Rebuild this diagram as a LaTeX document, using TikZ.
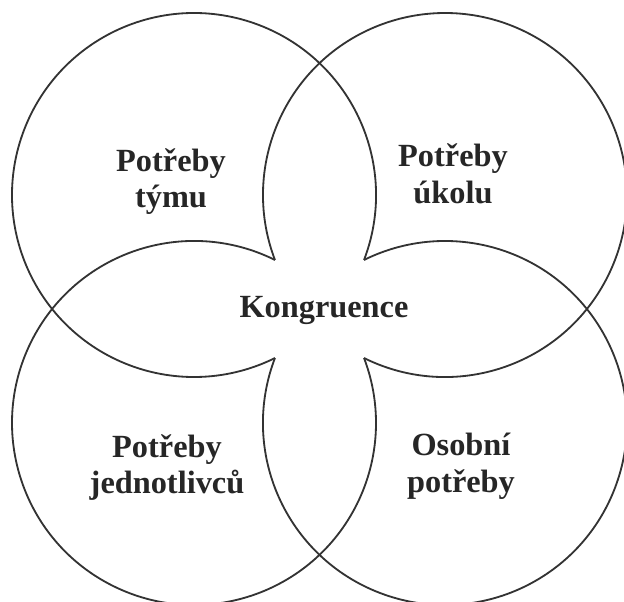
\documentclass[tikz,border=0pt]{standalone}
\usepackage{fontspec}
\setmainfont{Liberation Serif}
\usepackage{tikz}
\usetikzlibrary{calc}

\tikzset{
    ring/.style={line width=1.3pt, draw=black!80},
    need/.style={align=center, text=black!85, font=\fontsize{23}{26}\selectfont\bfseries}
}

\begin{document}
\begin{tikzpicture}[scale=0.025]
    \useasboundingbox (-319.5,-293) rectangle (304.5,309);
    \coordinate (TL) at (-125.5,114);
    \coordinate (TR) at (125.5,114);
    \coordinate (BL) at (-125.5,-114);
    \coordinate (BR) at (125.5,-114);
    % each circle without the arc that lies inside the opposite one
    \draw[ring] (TL) ++(-20.9:182) arc[start angle=-20.9, end angle=296.4, radius=182];
    \draw[ring] (TR) ++(243.6:182) arc[start angle=243.6, end angle=560.9, radius=182];
    \draw[ring] (BL) ++(63.6:182) arc[start angle=63.6, end angle=380.9, radius=182];
    \draw[ring] (BR) ++(159.1:182) arc[start angle=159.1, end angle=476.4, radius=182];
    \node[need] (team) at (-148.5,127.5) {Potřeby\\týmu};
    \node[need] (task) at (133.5,135) {Potřeby\\úkolu};
    \node[need] (indiv) at (-152.5,-158.5) {Potřeby\\jednotlivců};
    \node[need] (self) at (141.5,-157) {Osobní\\potřeby};
    \node[need, anchor=base] (core) at (4.5,-9) {Kongruence};
\end{tikzpicture}
\end{document}
